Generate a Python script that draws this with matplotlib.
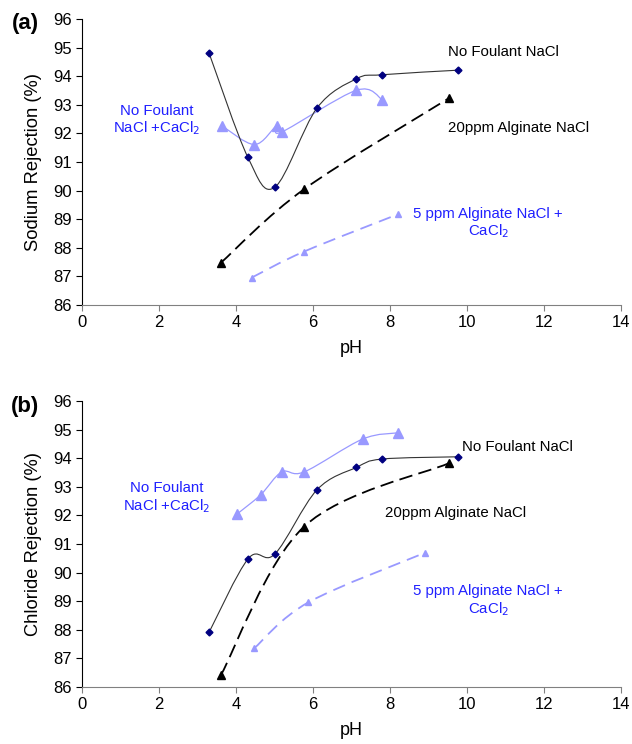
import numpy as np
import matplotlib.pyplot as plt
from matplotlib.path import Path
from matplotlib.patches import PathPatch

plt.rcParams['font.family'] = ['Liberation Sans', 'DejaVu Sans']

# panel (a) - sodium
a_nf_nacl_x = [3.30, 4.31, 5.01, 6.10, 7.13, 7.79, 9.77]
a_nf_nacl_y = [94.81, 91.16, 90.12, 92.88, 93.91, 94.05, 94.21]
a_nf_ca_x = [3.63, 4.48, 5.06, 5.19, 7.13, 7.80]
a_nf_ca_y = [92.27, 91.61, 92.27, 92.05, 93.51, 93.18]
a_alg20_x = [3.61, 5.77, 9.52]
a_alg20_y = [87.48, 90.05, 93.22]
a_alg5_x = [4.41, 5.77, 8.22]
a_alg5_y = [86.96, 87.87, 89.18]

# panel (b) - chloride
b_nf_nacl_x = [3.30, 4.32, 5.01, 6.10, 7.13, 7.79, 9.77]
b_nf_nacl_y = [87.91, 90.49, 90.65, 92.89, 93.68, 93.97, 94.05]
b_nf_ca_x = [4.03, 4.64, 5.19, 5.77, 7.29, 8.22]
b_nf_ca_y = [92.05, 92.72, 93.52, 93.52, 94.67, 94.89]
b_alg20_x = [3.61, 5.77, 9.52]
b_alg20_y = [86.42, 91.61, 93.82]
b_alg5_x = [4.47, 5.88, 8.92]
b_alg5_y = [87.35, 88.96, 90.70]

NAVY = '#000080'
LIGHT = '#9999ff'
BLUE = '#2020ff'


def smooth_line(ax, xs, ys, **kw):
    # excel-style smoothed line: bezier segments with catmull-rom handles
    p = np.column_stack([xs, ys])
    n = len(p)
    verts = [p[0]]
    codes = [Path.MOVETO]
    for i in range(n - 1):
        p0 = p[i - 1] if i > 0 else p[i]
        p3 = p[i + 2] if i + 2 < n else p[i + 1]
        c1 = p[i] + (p[i + 1] - p0) / 6.0
        c2 = p[i + 1] - (p3 - p[i]) / 6.0
        verts += [c1, c2, p[i + 1]]
        codes += [Path.CURVE4] * 3
    ax.add_patch(PathPatch(Path(verts, codes), fill=False, **kw))


def panel(ax, d, ylabel, tag, tag_y, texts):
    nf_x, nf_y, ca_x, ca_y, a20_x, a20_y, a5_x, a5_y = d
    smooth_line(ax, ca_x, ca_y, edgecolor=LIGHT, lw=0.9)
    ax.plot(ca_x, ca_y, '^', color=LIGHT, ms=7, ls='none')
    smooth_line(ax, a5_x, a5_y, edgecolor=LIGHT, lw=1.3, ls=(0, (7, 4)))
    ax.plot(a5_x, a5_y, '^', color=LIGHT, ms=5, ls='none')
    smooth_line(ax, a20_x, a20_y, edgecolor='black', lw=1.3, ls=(0, (7.5, 3.5)))
    ax.plot(a20_x, a20_y, '^', color='black', ms=6, ls='none')
    smooth_line(ax, nf_x, nf_y, edgecolor='#333333', lw=0.8)
    ax.plot(nf_x, nf_y, 'D', color=NAVY, ms=3.5, ls='none')

    ax.set_xlim(0, 14)
    ax.set_ylim(86, 96)
    ax.set_xticks(range(0, 15, 2))
    ax.set_yticks(range(86, 97))
    for s in ['top', 'right']:
        ax.spines[s].set_visible(False)
    ax.spines['left'].set_color('black')
    ax.spines['bottom'].set_color('#808080')
    ax.tick_params(axis='x', direction='out', length=4, color='#808080', labelsize=12)
    ax.tick_params(axis='y', direction='out', length=4, color='black', labelsize=12)
    ax.set_xlabel('pH', fontsize=13, labelpad=7)
    ax.set_ylabel(ylabel, fontsize=13.2, labelpad=8)
    fig.text(25 / 632, tag_y, tag, fontsize=16, fontweight='bold',
             ha='center', va='center')
    for x, y, s, c in texts:
        ax.text(x, y, s, color=c, fontsize=10.8, ha='center', va='center',
                linespacing=1.15)


fig = plt.figure(figsize=(6.32, 7.44), dpi=100)
ax1 = fig.add_axes([0.1297, 0.5900, 0.8529, 0.3845])
ax2 = fig.add_axes([0.1297, 0.0766, 0.8529, 0.3844])

panel(ax1, (a_nf_nacl_x, a_nf_nacl_y, a_nf_ca_x, a_nf_ca_y,
            a_alg20_x, a_alg20_y, a_alg5_x, a_alg5_y),
      'Sodium Rejection (%)', '(a)', 1 - 24 / 744,
      [(10.95, 94.85, 'No Foulant NaCl', 'black'),
       (11.35, 92.2, '20ppm Alginate NaCl', 'black'),
       (1.95, 92.45, 'No Foulant\nNaCl +CaCl$_2$', BLUE),
       (10.55, 88.85, '5 ppm Alginate NaCl +\nCaCl$_2$', BLUE)])

panel(ax2, (b_nf_nacl_x, b_nf_nacl_y, b_nf_ca_x, b_nf_ca_y,
            b_alg20_x, b_alg20_y, b_alg5_x, b_alg5_y),
      'Chloride Rejection (%)', '(b)', 1 - 407 / 744,
      [(11.3, 94.4, 'No Foulant NaCl', 'black'),
       (9.7, 92.1, '20ppm Alginate NaCl', 'black'),
       (2.2, 92.6, 'No Foulant\nNaCl +CaCl$_2$', BLUE),
       (10.55, 89.0, '5 ppm Alginate NaCl +\nCaCl$_2$', BLUE)])

fig.savefig('out.png', dpi=100)
